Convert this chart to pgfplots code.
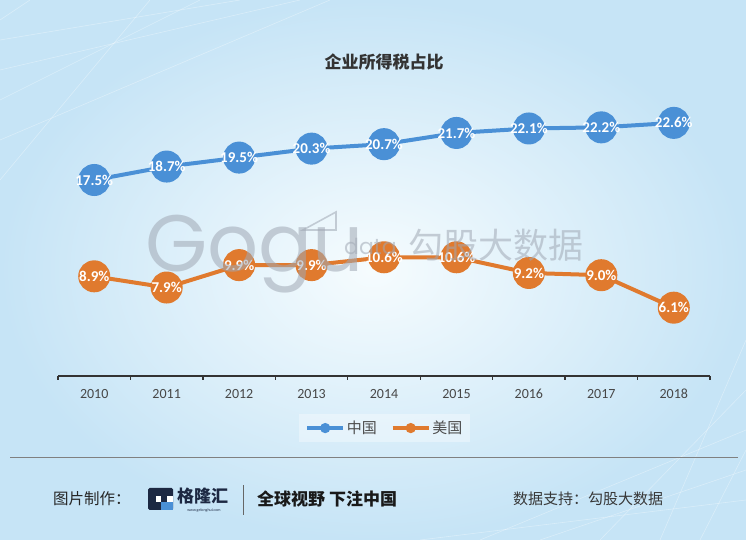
\documentclass[border=0pt]{standalone}
\usepackage{fontspec}
\setmainfont{Carlito}
\newfontfamily\cjk{Noto Sans CJK SC}
\newfontfamily\wm{Poppins}
\usepackage{pgfplots}
\usepackage{pgfplotstable}
\pgfplotsset{compat=1.18}
\definecolor{cnblue}{RGB}{74,144,214}
\definecolor{usorange}{RGB}{224,122,46}
\definecolor{bgout}{RGB}{198,228,246}
\definecolor{bgin}{RGB}{246,252,254}
\definecolor{navy}{RGB}{28,40,66}
\definecolor{wmgray}{RGB}{160,168,180}

\pgfplotstableread{
x cn us
0 17.5 8.9
1 18.7 7.9
2 19.5 9.9
3 20.3 9.9
4 20.7 10.6
5 21.7 10.6
6 22.1 9.2
7 22.2 9.0
8 22.6 6.1
}\datatable

\begin{document}
\begin{tikzpicture}[x=1pt,y=1pt]
% background
\shade[inner color=bgin, outer color=bgout] (0,0) rectangle (746,540);
\begin{scope}[white, opacity=0.35, line width=0.6pt]
\draw (0,500) -- (240,540);
\draw (0,470) -- (300,540);
\draw (0,440) -- (200,540);
\draw (0,400) -- (330,540);
\draw (30,540) -- (0,520);
\draw (0,360) -- (150,540);
\draw (480,0) -- (746,110);
\draw (540,0) -- (746,70);
\draw (600,0) -- (746,150);
\draw (420,0) -- (746,40);
\draw (660,0) -- (746,200);
\draw (700,0) -- (746,90);
\end{scope}

% title
\node[font=\cjk\bfseries\fontsize{17}{17}\selectfont, text=black!80] at (384,478) {企业所得税占比};

\begin{axis}[
  at={(58pt,164pt)}, anchor=south west,
  scale only axis, width=652pt, height=336pt,
  xmin=-0.5, xmax=8.5, ymin=0, ymax=30,
  clip=false,
  axis x line*=bottom, axis y line=none,
  x axis line style={draw=black!80, line width=1.5pt},
  xtick={-0.5,0.5,...,8.5},
  x tick label as interval,
  xticklabels={2010,2011,2012,2013,2014,2015,2016,2017,2018},
  tick align=outside,
  major tick length=4pt,
  tick style={black!80, line width=1.3pt},
  xticklabel style={font=\fontsize{14}{14}\selectfont, text=black!72, anchor=north, text height=9pt, text depth=0pt, yshift=-6pt},
  /pgf/number format/assume math mode=true,
  nodes near coords={\pgfmathprintnumber[fixed,fixed zerofill,precision=1]{\pgfplotspointmeta}\%},
  every node near coord/.append style={anchor=center, inner sep=0pt, text=white, font=\bfseries\fontsize{15}{15}\selectfont},
  legend style={at={(0.5015,-0.155)}, anchor=center, legend columns=2, draw=none,
    fill=white, fill opacity=0.35, text opacity=1,
    font=\cjk\fontsize{15}{15}\selectfont, text=black!70,
    inner xsep=6pt, inner ysep=5pt,
    /tikz/every even column/.append style={column sep=12pt}},
]
\addplot[cnblue, line width=4pt, mark=*, mark size=14pt, mark options={fill=cnblue, draw=none},
  legend image code/.code={\draw[cnblue, line width=3.5pt] (0pt,0pt) -- (36pt,0pt); \fill[cnblue] (18pt,0pt) circle (3pt);}]
  table[x=x, y=cn]{\datatable};
\addlegendentry{中国}
\addplot[usorange, line width=4pt, mark=*, mark size=14pt, mark options={fill=usorange, draw=none},
  legend image code/.code={\draw[usorange, line width=3.5pt] (0pt,0pt) -- (36pt,0pt); \fill[usorange] (18pt,0pt) circle (3pt);}]
  table[x=x, y=us]{\datatable};
\addlegendentry{美国}
\end{axis}

% watermark
\begin{scope}[opacity=0.55]
\node[anchor=base west, inner sep=0pt, text=wmgray, font=\wm\fontsize{80}{80}\selectfont] at (145,268) {Gogu};
\draw[wmgray, line width=1.6pt, line join=miter] (336,328) -- (303,310) -- (336,310) -- cycle;
\node[anchor=base west, inner sep=0pt, text=wmgray, font=\wm\fontsize{22}{22}\selectfont] at (344,285) {data};
\node[anchor=base west, inner sep=0pt, text=wmgray, font=\cjk\fontsize{35}{35}\selectfont] at (408,281) {勾股大数据};
\end{scope}

% footer
\draw[black!50, line width=0.8pt] (10,83) -- (738,83);
\node[anchor=west, inner sep=0pt, font=\cjk\fontsize{15.5}{15.5}\selectfont, text=black!85] at (53,41) {图片制作：};
\fill[navy, rounded corners=1.5pt] (148,30) rectangle (173,52);
\fill[white] (156,38) rectangle (173,44);
\fill[cnblue] (161,30) -- (173,30) -- (173,38) -- (161,38) -- cycle;
\fill[navy] (161,38) rectangle (167,44);
\node[anchor=west, inner sep=0pt, font=\cjk\bfseries\fontsize{17}{17}\selectfont, text=navy] at (177,44) {格隆汇};
\node[anchor=center, inner sep=0pt, font=\fontsize{4}{4}\selectfont, text=navy] at (204,30) {www.gelonghui.com};
\draw[black!60, line width=0.9pt] (243,25) -- (243,55);
\node[anchor=west, inner sep=0pt, font=\cjk\bfseries\fontsize{17}{17}\selectfont, text=black!90] at (257,41) {全球视野 下注中国};
\node[anchor=west, inner sep=0pt, font=\cjk\fontsize{15}{15}\selectfont, text=black!78] at (513,41) {数据支持：勾股大数据};

\pgfresetboundingbox
\useasboundingbox (0,0) rectangle (746,540);
\end{tikzpicture}
\end{document}
